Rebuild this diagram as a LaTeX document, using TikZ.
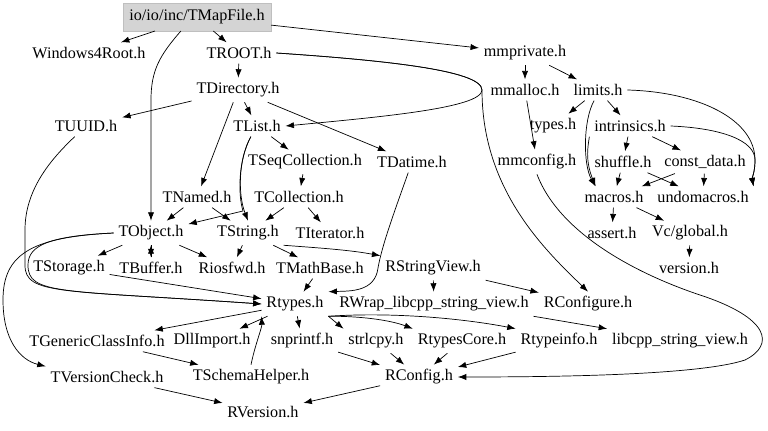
\documentclass[tikz,border=0pt]{standalone}
\usepackage{fontspec}
\setmainfont{Liberation Serif}
\usepackage{tikz}
\usetikzlibrary{arrows.meta}

\begin{document}
\begin{tikzpicture}[x=0.025cm, y=-0.025cm,
	file/.style={inner sep=2pt, outer sep=1.5pt, font=\fontsize{11.5}{13}\selectfont},
	rootfile/.style={file, outer sep=0pt, draw=black!25, fill=black!17, minimum width=3.7cm, minimum height=0.7cm},
	dep/.style={-{Latex[length=6pt, width=4.4pt]}, line width=0.5pt}]
	% Files and include edges:
	\useasboundingbox (0,0) rectangle (768,431);

	\node[rootfile] (TMapFile) at (197,17){io/io/inc/TMapFile.h};
	\node[file] (Win4Root) at (89,53){Windows4Root.h};
	\node[file] (TROOT) at (239,53){TROOT.h};
	\node[file] (mmprivate) at (525,53){mmprivate.h};
	\node[file] (TDirectory) at (238,90){TDirectory.h};
	\node[file] (mmalloc) at (525,90){mmalloc.h};
	\node[file] (limits) at (598,90){limits.h};
	\node[file] (TUUID) at (86,126){TUUID.h};
	\node[file] (TList) at (257,126){TList.h};
	\node[file] (types) at (553,126){types.h};
	\node[file] (intrinsics) at (630,126){intrinsics.h};
	\node[file] (TSeqCollection) at (305,162){TSeqCollection.h};
	\node[file] (TDatime) at (412,162){TDatime.h};
	\node[file] (mmconfig) at (537,162){mmconfig.h};
	\node[file] (shuffle) at (623,162){shuffle.h};
	\node[file] (constdata) at (705,162){const\_data.h};
	\node[file] (TNamed) at (197,197){TNamed.h};
	\node[file] (TCollection) at (299,197){TCollection.h};
	\node[file] (macros) at (614,197){macros.h};
	\node[file] (undomacros) at (703,197){undomacros.h};
	\node[file] (TObject) at (151,233){TObject.h};
	\node[file] (TString) at (248,233){TString.h};
	\node[file] (TIterator) at (330,233){TIterator.h};
	\node[file] (assert) at (612,233){assert.h};
	\node[file] (Vcglobal) at (690,233){Vc/global.h};
	\node[file] (TStorage) at (69,268){TStorage.h};
	\node[file] (TBuffer) at (151,268){TBuffer.h};
	\node[file] (Riosfwd) at (232,268){Riosfwd.h};
	\node[file] (TMathBase) at (320,268){TMathBase.h};
	\node[file] (RStringView) at (433,268){RStringView.h};
	\node[file] (version) at (689,268){version.h};
	\node[file] (Rtypes) at (295,304){Rtypes.h};
	\node[file] (RWrap) at (434,304){RWrap\_libcpp\_string\_view.h};
	\node[file] (RConfigure) at (588,304){RConfigure.h};
	\node[file] (TGenericClassInfo) at (97,341){TGenericClassInfo.h};
	\node[file] (DllImport) at (212,341){DllImport.h};
	\node[file] (snprintf) at (302,341){snprintf.h};
	\node[file] (strlcpy) at (376,341){strlcpy.h};
	\node[file] (RtypesCore) at (462,341){RtypesCore.h};
	\node[file] (Rtypeinfo) at (559,341){Rtypeinfo.h};
	\node[file] (libcpp) at (680,341){libcpp\_string\_view.h};
	\node[file] (TVersionCheck) at (107,377){TVersionCheck.h};
	\node[file] (TSchemaHelper) at (251,377){TSchemaHelper.h};
	\node[file] (RConfig) at (419,377){RConfig.h};
	\node[file] (RVersion) at (263,412){RVersion.h};

	\draw[dep] (TMapFile) -- (Win4Root);
	\draw[dep] (TMapFile) -- (TROOT);
	\draw[dep] (TMapFile) -- (mmprivate);
	\draw[dep] (TMapFile.-139) .. controls (160,55) and (151,70) .. (151,100) -- (TObject);
	\draw[dep] (TROOT) -- (TDirectory);
	\draw[dep] (TROOT.east) .. controls (380,60) and (482,70) .. (482,90) .. controls (482,108) and (380,117) .. (TList.east);
	\draw[dep] (TROOT.east) .. controls (380,60) and (482,70) .. (482,90) .. controls (482,190) and (545,250) .. (RConfigure.north);
	\draw[dep] (TDirectory) -- (TUUID);
	\draw[dep] (TDirectory) -- (TList);
	\draw[dep] (TDirectory) -- (TDatime);
	\draw[dep] (TDirectory) -- (TNamed);
	\draw[dep] (mmprivate) -- (mmalloc);
	\draw[dep] (mmprivate) -- (limits);
	\draw[dep] (mmalloc) -- (mmconfig);
	\draw[dep] (limits) -- (types);
	\draw[dep] (limits) -- (intrinsics);
	\draw[dep] (limits.-110) .. controls (583,120) and (583,165) .. (macros.150);
	\draw[dep] (limits.east) .. controls (700,92) and (755,120) .. (755,160) .. controls (755,172) and (752,178) .. (undomacros.north east);
	\draw[dep] (intrinsics) -- (shuffle);
	\draw[dep] (intrinsics) -- (constdata);
	\draw[dep] (intrinsics.south west) .. controls (588,146) and (585,160) .. (macros.150);
	\draw[dep] (intrinsics.east) .. controls (720,128) and (755,140) .. (755,160) .. controls (755,172) and (752,178) .. (undomacros.north east);
	\draw[dep] (shuffle) -- (macros);
	\draw[dep] (shuffle) -- (undomacros);
	\draw[dep] (constdata) -- (macros);
	\draw[dep] (constdata) -- (undomacros);
	\draw[dep] (macros) -- (assert);
	\draw[dep] (macros) -- (Vcglobal);
	\draw[dep] (Vcglobal) -- (version);
	\draw[dep] (mmconfig.south) .. controls (560,235) and (640,275) .. (700,295) .. controls (770,318) and (775,345) .. (745,360) .. controls (700,375) and (560,377) .. (RConfig.east);
	\draw[dep] (TList) -- (TSeqCollection);
	\draw[dep] (TList.-120) .. controls (238,160) and (238,195) .. (TString.north);
	\draw[dep] (TList.-120) .. controls (238,160) and (238,195) .. (243,211) -- (TObject);
	\draw[dep] (TSeqCollection) -- (TCollection);
	\draw[dep] (TCollection) -- (TString);
	\draw[dep] (TCollection) -- (TIterator);
	\draw[dep] (TNamed) -- (TObject);
	\draw[dep] (TNamed) -- (TString);
	\draw[dep] (TDatime) .. controls (395,210) and (382,245) .. (378,268) .. controls (375,292) and (350,291) .. (Rtypes.north east);
	\draw[dep] (TUUID) .. controls (50,160) and (25,190) .. (25,230) -- (25,265) .. controls (25,295) and (60,290) .. (Rtypes.west);
	\draw[dep] (TObject.west) .. controls (50,236) and (28,245) .. (28,265) .. controls (28,295) and (60,290) .. (Rtypes.west);
	\draw[dep] (TObject.west) .. controls (30,237) and (3,255) .. (3,300) .. controls (3,340) and (20,360) .. (TVersionCheck.north west);
	\draw[dep] (TObject) -- (TStorage);
	\draw[dep] (TObject) -- (TBuffer);
	\draw[dep] (TBuffer) -- (TObject);
	\draw[dep] (TObject) -- (Riosfwd);
	\draw[dep] (TString) -- (Riosfwd);
	\draw[dep] (TString) -- (TMathBase);
	\draw[dep] (TString.south east) .. controls (320,248) and (350,250) .. (RStringView.north west);
	\draw[dep] (TStorage) -- (Rtypes);
	\draw[dep] (TMathBase) -- (Rtypes);
	\draw[dep] (RStringView) -- (RWrap);
	\draw[dep] (RStringView) -- (RConfigure);
	\draw[dep] (RWrap.south east) -- (libcpp.north west);
	\draw[dep] (Rtypes) -- (TGenericClassInfo);
	\draw[dep] (Rtypes) -- (DllImport);
	\draw[dep] (Rtypes) -- (snprintf);
	\draw[dep] (Rtypes.south east) -- (strlcpy.north west);
	\draw[dep] (Rtypes.south east) .. controls (360,316) and (390,320) .. (RtypesCore.north west);
	\draw[dep] (Rtypes.south east) .. controls (390,312) and (460,318) .. (Rtypeinfo.north west);
	\draw[dep] (TSchemaHelper.north) .. controls (255,345) and (262,328) .. (Rtypes.south west);
	\draw[dep] (TGenericClassInfo) -- (TSchemaHelper);
	\draw[dep] (snprintf) -- (RConfig);
	\draw[dep] (strlcpy) -- (RConfig);
	\draw[dep] (RtypesCore) -- (RConfig);
	\draw[dep] (Rtypeinfo) -- (RConfig);
	\draw[dep] (TVersionCheck) -- (RVersion);
	\draw[dep] (RConfig) -- (RVersion);
\end{tikzpicture}
\end{document}
